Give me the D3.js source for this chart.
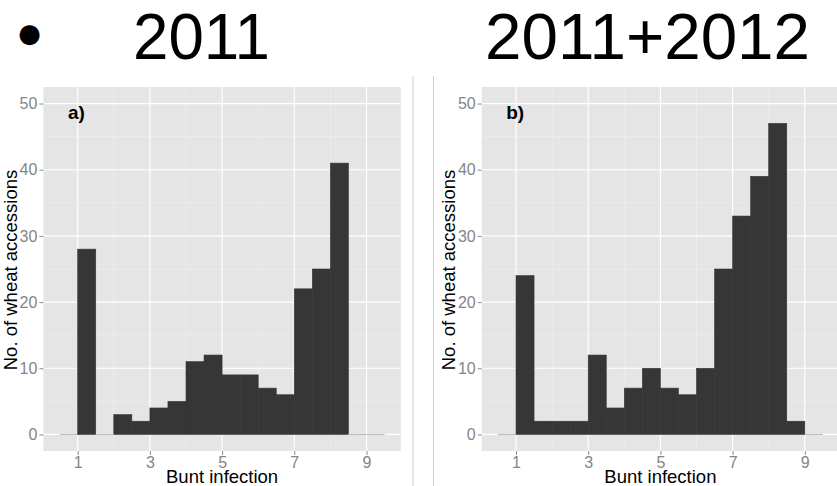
<!DOCTYPE html>
<html lang="en">
<head>
<meta charset="UTF-8" />
<title>Bunt infection histograms</title>
<script src="https://d3js.org/d3.v7.min.js"></script>
<style>
  body { margin: 0; background: #fff; }
  svg { display: block; }
</style>
</head>
<body>
<svg id="chart" width="837" height="486"></svg>
<script>
// bins are 0.5 wide, left edges from 0.5 to 9.0
var binLeft = [0.5, 1, 1.5, 2, 2.5, 3, 3.5, 4, 4.5, 5, 5.5, 6, 6.5, 7, 7.5, 8, 8.5, 9];
var counts2011 = [0, 28, 0, 3, 2, 4, 5, 11, 12, 9, 9, 7, 6, 22, 25, 41, 0, 0];
var counts2011_2012 = [0, 24, 2, 2, 2, 12, 4, 7, 10, 7, 6, 10, 25, 33, 39, 47, 2, 0];
var xTicks = [1, 3, 5, 7, 9];
var yTicks = [0, 10, 20, 30, 40, 50];
var panelNames = ["a)", "b)"];
var headings = ["2011", "2011+2012"];

var svg = d3.select("#chart");
var binW = 0.5;

// slide headings
svg.append("text")
  .attr("x", 29.7).attr("y", 41.8)
  .attr("text-anchor", "middle")
  .style("font-family", "DejaVu Sans")
  .style("font-size", "26px")
  .text("\u25CF");

svg.append("text")
  .attr("x", 133).attr("y", 58.5)
  .attr("textLength", 137).attr("lengthAdjust", "spacingAndGlyphs")
  .style("font-family", "Liberation Sans")
  .style("font-size", "64px")
  .text(headings[0]);

svg.append("text")
  .attr("x", 485).attr("y", 58.5)
  .attr("textLength", 325).attr("lengthAdjust", "spacingAndGlyphs")
  .style("font-family", "Liberation Sans")
  .style("font-size", "64px")
  .text(headings[1]);

// separator lines between the two images
[413, 433.5].forEach(function(x){
  svg.append("line")
    .attr("x1", x).attr("x2", x).attr("y1", 76).attr("y2", 486)
    .attr("stroke", "#cfcfcf").attr("stroke-width", 1);
});

function drawPanel(left, counts, label) {
  var x = d3.scaleLinear().domain([0.05, 9.95]).range([left, left + 357.4]);
  var y = d3.scaleLinear().domain([-2.5, 52.5]).range([451, 87]);
  var g = svg.append("g");

  g.append("rect")
    .attr("x", x(0.05)).attr("y", y(52.5))
    .attr("width", x(9.95) - x(0.05)).attr("height", y(-2.5) - y(52.5))
    .attr("fill", "#e5e5e5");

  // minor grid
  g.selectAll(".vminor").data([2, 4, 6, 8]).enter().append("line")
    .attr("x1", function(d){ return x(d); }).attr("x2", function(d){ return x(d); })
    .attr("y1", y(52.5)).attr("y2", y(-2.5))
    .attr("stroke", "#f0f0f0").attr("stroke-width", 0.6);
  g.selectAll(".hminor").data([5, 15, 25, 35, 45]).enter().append("line")
    .attr("x1", x(0.05)).attr("x2", x(9.95))
    .attr("y1", function(d){ return y(d); }).attr("y2", function(d){ return y(d); })
    .attr("stroke", "#f0f0f0").attr("stroke-width", 0.6);

  // major grid
  g.selectAll(".vmajor").data(xTicks).enter().append("line")
    .attr("x1", function(d){ return x(d); }).attr("x2", function(d){ return x(d); })
    .attr("y1", y(52.5)).attr("y2", y(-2.5))
    .attr("stroke", "#ffffff").attr("stroke-width", 1.2);
  g.selectAll(".hmajor").data(yTicks).enter().append("line")
    .attr("x1", x(0.05)).attr("x2", x(9.95))
    .attr("y1", function(d){ return y(d); }).attr("y2", function(d){ return y(d); })
    .attr("stroke", "#ffffff").attr("stroke-width", 1.2);

  // bars (zero-count bins show as a thin grey line on the baseline)
  g.selectAll(".bar").data(binLeft).enter().append("rect")
    .attr("x", function(d){ return x(d); })
    .attr("width", function(d){ return x(d + binW) - x(d); })
    .attr("y", function(d, i){ return counts[i] > 0 ? y(counts[i]) : y(0) - 0.6; })
    .attr("height", function(d, i){ return counts[i] > 0 ? y(0) - y(counts[i]) : 1.2; })
    .attr("fill", function(d, i){ return counts[i] > 0 ? "#363636" : "#bdbdbd"; })
    .attr("stroke", function(d, i){ return counts[i] > 0 ? "#363636" : "none"; })
    .attr("stroke-width", 0.6);

  // axes
  var xAxis = d3.axisBottom(x).tickValues(xTicks).tickSize(4).tickPadding(2);
  var gx = g.append("g").attr("transform", "translate(0," + y(-2.5) + ")").call(xAxis);
  var yAxis = d3.axisLeft(y).tickValues(yTicks).tickSize(4).tickPadding(2);
  var gy = g.append("g").attr("transform", "translate(" + x(0.05) + ",0)").call(yAxis);
  [gx, gy].forEach(function(a){
    a.select(".domain").remove();
    a.selectAll(".tick line").attr("stroke", "#8c8c8c");
    a.selectAll(".tick text")
      .attr("fill", "#858585")
      .style("font-family", "Liberation Sans")
      .style("font-size", "16px");
  });

  g.append("text")
    .attr("x", (x(0.05) + x(9.95)) / 2).attr("y", 482.5)
    .attr("text-anchor", "middle")
    .style("font-family", "Liberation Sans")
    .style("font-size", "18.5px")
    .text("Bunt infection");

  g.append("text")
    .attr("transform", "translate(" + (x(0.05) - 26.5) + ",270) rotate(-90)")
    .attr("text-anchor", "middle")
    .style("font-family", "Liberation Sans")
    .style("font-size", "18.5px")
    .text("No. of wheat accessions");

  g.append("text")
    .attr("x", x(0.05) + 24.5).attr("y", 119)
    .style("font-family", "Liberation Sans")
    .style("font-weight", "bold")
    .style("font-size", "19px")
    .text(label);
}

drawPanel(43.4, counts2011, panelNames[0]);
drawPanel(481.7, counts2011_2012, panelNames[1]);
</script>
</body>
</html>
